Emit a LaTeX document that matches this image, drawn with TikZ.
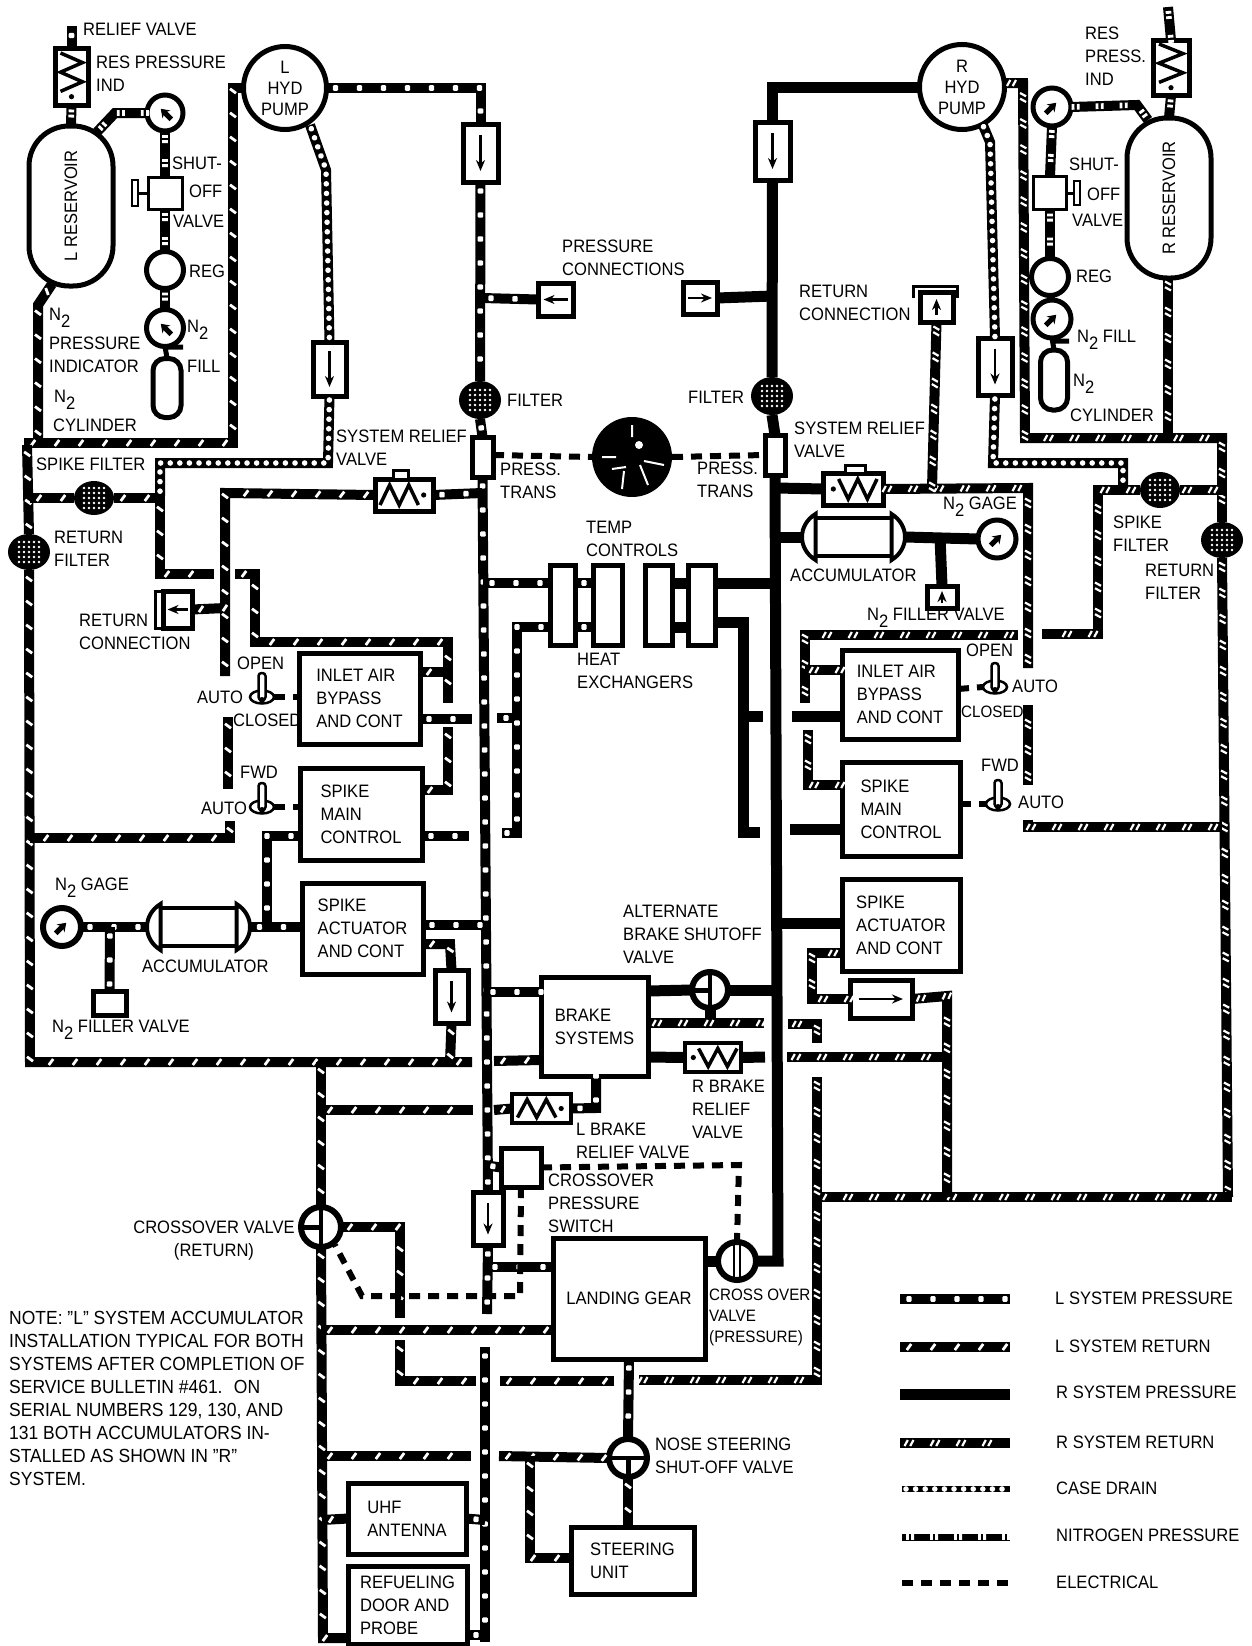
\documentclass[tikz,border=0pt]{standalone}
\usepackage{fontspec}
\setmainfont[FakeStretch=0.92]{Liberation Sans}
\usetikzlibrary{shapes.geometric,arrows.meta,decorations.markings}
\newcommand{\Nii}{N\raisebox{-7pt}{2}}
\newcommand{\chkarrow}[3]{\begin{scope}[shift={(#1.center)},rotate=#2]\draw[line width=2.5pt,-{Stealth[length=11pt,width=9pt]}] (-#3,0)--(#3,0);\end{scope}}
\newcommand{\gptr}[2]{\begin{scope}[shift={(#1.center)},rotate=#2]\draw[line width=5pt,-{Stealth[length=8pt,width=11pt]}] (-9,0)--(6,0);\end{scope}}
\newcommand{\filtd}[1]{\begin{scope}[shift={(#1.center)}]\foreach \i in {-2,...,2}\foreach \j in {-2,...,2}{\fill[white] (\i*5,\j*5) circle (1.4pt);}\end{scope}}
\newcommand{\springz}[4]{\begin{scope}[shift={(#1.center)},rotate=#2]\draw[line width=3.5pt] ({-#3},{#4})--({-.6*#3},{-#4})--({-.2*#3},{#4})--({.2*#3},{-#4})--({.6*#3},{#4});\fill ({.82*#3},0) circle (2.6pt);\end{scope}}
\newcommand{\tvalve}[3]{\begin{scope}[shift={(#1.center)},rotate=#2]\draw[line width=4pt] (0,{-#3})--(0,{#3});\draw[line width=5pt] ({-#3},0)--(0,0);\end{scope}}
\newcommand{\toggl}[1]{\begin{scope}[shift={(#1.center)}]\draw[line width=2.5pt,fill=white,rounded corners=3pt] (-3.5,-24) rectangle (3.5,3);\fill (0,3) circle (3pt);\end{scope}}
\newcommand{\accum}[1]{\begin{scope}[shift={(#1.center)}]\draw[line width=4pt] (-38,-19)--(38,-19) (-38,19)--(38,19);\draw[line width=4pt,fill=white] (-38,-23) .. controls (-56,-12) and (-56,12) .. (-38,23) -- cycle;\draw[line width=4pt,fill=white] (38,-23) .. controls (56,-12) and (56,12) .. (38,23) -- cycle;\end{scope}}
\tikzset{
 lab/.style={anchor=west,align=left,inner sep=0pt,font=\fontsize{18}{23}\selectfont},
 labc/.style={lab,anchor=center,align=center},
 lpline/.style={line width=10pt,postaction={decorate,decoration={markings,mark=between positions 9pt and 1 step 24pt with {\fill[white,rounded corners=1pt] (-2.6,-2.8) rectangle (2.6,2.8);}}}},
 lrline/.style={line width=10pt,postaction={decorate,decoration={markings,mark=between positions 9pt and 1 step 24pt with {\draw[white,line width=2.8pt] (-2.2,3)--(2.2,-3);}}}},
 rpline/.style={line width=11pt},
 rrline/.style={line width=10pt,postaction={decorate,decoration={markings,mark=between positions 9pt and 1 step 26pt with {\draw[white,line width=2.2pt] (-4.5,3)--(-1.2,-3) (1.2,3)--(4.5,-3);}}}},
 cdline/.style={line width=10pt,postaction={decorate,decoration={markings,mark=between positions 4pt and 1 step 9.6pt with {\fill[white] (0,0) circle (2.8pt);}}}},
 nline/.style={line width=10pt,postaction={decorate,decoration={markings,mark=between positions 8pt and 1 step 24pt with {\fill[white] (-4,-2.8) rectangle (-1.2,2.8) (1.2,-2.8) rectangle (4,2.8);}}}},
 elline/.style={line width=6pt,dash pattern=on 11pt off 8pt},
 tbox/.style 2 args={draw,fill=white,line width=5pt,inner sep=0pt,outer sep=0pt,minimum width=#1,minimum height=#2,align=left,font=\fontsize{18}{23}\selectfont},
 disc/.style={circle,draw,fill=white,line width=5pt,inner sep=0pt,outer sep=0pt,minimum size=#1,align=center,font=\fontsize{18}{21}\selectfont},
 filt/.style 2 args={ellipse,fill=black,inner sep=0pt,outer sep=0pt,minimum width=#1,minimum height=#2},
 res/.style={rectangle,rotate=90,draw,fill=white,line width=5pt,rounded corners=40pt,minimum width=160pt,minimum height=84pt,inner sep=0pt,outer sep=0pt,font=\fontsize{18}{21}\selectfont},
 cyl/.style 2 args={draw,fill=white,line width=5pt,rounded corners=12pt,minimum width=#1,minimum height=#2,inner sep=0pt,outer sep=0pt},
 tgl/.style={ellipse,draw,fill=white,line width=2.5pt,minimum width=24pt,minimum height=13pt,inner sep=0pt,outer sep=0pt},
}
\begin{document}
\begin{tikzpicture}[x=1pt,y=-1pt,line join=miter]
\useasboundingbox[fill=white] (0,0) rectangle (1252,1646);
% ---- boxes
\node[tbox={121pt}{91pt}] (lin) at (359.5,698.5) {INLET AIR\\BYPASS\\AND CONT};
\node[tbox={122pt}{92pt}] (lmain) at (361,814) {SPIKE\\MAIN\\CONTROL};
\node[tbox={121pt}{91pt}] (lact) at (362.5,928.5) {SPIKE\\ACTUATOR\\AND CONT};
\node[tbox={116pt}{89pt}] (rin) at (900,694.5) {INLET AIR\\BYPASS\\AND CONT};
\node[tbox={118pt}{94pt}] (rmain) at (901,809) {SPIKE\\MAIN\\CONTROL};
\node[tbox={118pt}{92pt}] (ract) at (901,925) {SPIKE\\ACTUATOR\\AND CONT};
\node[tbox={107pt}{99pt}] (brake) at (594.5,1026.5) {BRAKE\\SYSTEMS};
\node[tbox={152pt}{121pt},align=center] (landing) at (629,1298.5) {LANDING GEAR};
\node[tbox={123pt}{67pt}] (steer) at (632.5,1560.5) {STEERING\\UNIT};
\node[tbox={118pt}{71pt}] (uhf) at (407,1518.5) {UHF\\ANTENNA};
\node[tbox={119pt}{78pt}] (refuel) at (407.5,1605) {REFUELING\\DOOR AND\\PROBE};
% ---- pumps, reservoirs
\node[disc=83pt] (lpump) at (285,88) {L\\HYD\\PUMP};
\node[disc=85pt] (rpump) at (962,87) {R\\HYD\\PUMP};
\node[res] (lres) at (71,206) {L RESERVOIR};
\node[res] (rres) at (1169,198) {R RESERVOIR};
\node[tbox={33pt}{57pt}] (lrv) at (71.5,77) {};
\node[tbox={36pt}{55pt}] (rrv) at (1171,68) {};
% ---- left nitrogen train
\node[disc=36pt] (lg1) at (165,113) {};
\node[tbox={34pt}{32pt},line width=3pt] (lsh) at (165,193) {};
\node[tbox={6pt}{26pt},line width=2.5pt] (lshb) at (135,193) {};
\node[disc=37pt] (lreg) at (165,270) {};
\node[disc=37pt] (lg2) at (165,328) {};
\node[cyl={28pt}{59pt}] (lcyl) at (167,388) {};
% ---- right nitrogen train
\node[disc=38pt] (rg1) at (1052,107) {};
\node[tbox={33pt}{33pt},line width=2.5pt] (rsh) at (1050,193) {};
\node[tbox={6pt}{24pt},line width=2.5pt] (rshb) at (1077,193) {};
\node[disc=37pt] (rreg) at (1050,277) {};
\node[disc=38pt] (rg2) at (1052,319) {};
\node[cyl={27pt}{60pt}] (rcyl) at (1054,380) {};
% ---- check valves and connections
\node[tbox={35pt}{58pt}] (lchk) at (480.5,153) {};
\node[tbox={33pt}{54pt}] (lchkb) at (329.5,369) {};
\node[tbox={35pt}{58pt}] (rchk) at (772.5,151) {};
\node[tbox={34pt}{57pt}] (rchkb) at (995,366.5) {};
\node[tbox={33pt}{53pt}] (lchkc) at (451.5,996.5) {};
\node[tbox={62pt}{38pt}] (rchkc) at (881,999) {};
\node[tbox={30pt}{53pt}] (lchkd) at (488,1218.5) {};
\node[tbox={35pt}{33pt}] (lpc) at (555.5,299.5) {};
\node[tbox={34pt}{32pt}] (rpc) at (700,298) {};
\node[tbox={29pt}{37pt}] (lrc) at (177.5,609.5) {};
\node[tbox={33pt}{30pt}] (rrc) at (936.5,307) {};
\node[tbox={21pt}{40pt}] (lpt) at (482.5,457) {};
\node[tbox={20pt}{40pt}] (rpt) at (775,455) {};
\node[tbox={33pt}{24pt}] (lfv) at (109.5,1003) {};
\node[tbox={30pt}{22pt}] (rfv) at (942,597) {};
\node[tbox={40pt}{39pt}] (cps) at (521,1167.5) {};
% ---- filters
\node[filt={42pt}{38pt}] (lfm) at (480,400) {};
\node[filt={42pt}{38pt}] (rfm) at (772,396) {};
\node[filt={40pt}{34pt}] (lsf) at (94,498) {};
\node[filt={42pt}{36pt}] (lrf) at (29,552) {};
\node[filt={40pt}{36pt}] (rsf) at (1160,490) {};
\node[filt={42pt}{36pt}] (rrf) at (1222,540) {};
% ---- relief valves
\node[tbox={58pt}{32pt}] (lsr) at (404,495) {};
\node[tbox={15pt}{9pt},line width=3pt] (lsrt) at (401,475) {};
\node[tbox={60pt}{32pt}] (rsr) at (853,489) {};
\node[tbox={20pt}{8pt},line width=3pt] (rsrt) at (855,469) {};
\node[tbox={56pt}{29pt},line width=4pt] (rbv) at (713,1057.5) {};
\node[tbox={59pt}{29pt},line width=4pt] (lbv) at (541.5,1108.5) {};
% ---- gauges, valves
\node[disc=38pt,line width=6pt] (lg3) at (62,927) {};
\node[disc=38pt,line width=5pt] (rg3) at (997,539) {};
\node[disc=36pt,line width=6pt] (abv) at (710,990) {};
\node[disc=38pt,line width=6pt] (xop) at (737,1261) {};
\node[disc=40pt,line width=6pt] (xor) at (321,1227) {};
\node[disc=38pt,line width=6pt] (nose) at (628,1458) {};
\node[circle,fill=black,minimum size=80pt,inner sep=0pt,outer sep=0pt] (clock) at (632,457) {};
\node[tbox={25pt}{80pt}] (hxa) at (562.5,605) {};
\node[tbox={29pt}{80pt}] (hxb) at (607.5,605) {};
\node[tbox={27pt}{80pt}] (hxc) at (658.5,605) {};
\node[tbox={27pt}{80pt}] (hxd) at (701.5,605) {};
\node[minimum width=104pt,minimum height=44pt,inner sep=0pt,outer sep=0pt] (lacc) at (198.5,927) {};
\node[minimum width=104pt,minimum height=44pt,inner sep=0pt,outer sep=0pt] (racc) at (853.5,537) {};
\node[tgl] (lts) at (262,697) {};
\node[tgl] (lsw) at (262,807) {};
\node[tgl] (rts) at (995,687) {};
\node[tgl] (rsw) at (998,804) {};
% ---- symbols in the nodes
\chkarrow{lchk}{-90}{18}\chkarrow{lchkb}{-90}{18}\chkarrow{rchk}{-90}{18}\chkarrow{rchkb}{-90}{18}
\chkarrow{lchkc}{-90}{16}\chkarrow{rchkc}{0}{22}\chkarrow{lchkd}{-90}{16}
\chkarrow{lpc}{180}{12}\chkarrow{rpc}{0}{12}\chkarrow{lrc}{180}{10}\chkarrow{rrc}{90}{8}\chkarrow{rfv}{90}{6}
\gptr{lg1}{135}\gptr{lg2}{135}\gptr{rg1}{45}\gptr{rg2}{45}\gptr{lg3}{45}\gptr{rg3}{45}
\filtd{lfm}\filtd{rfm}\filtd{lsf}\filtd{lrf}\filtd{rsf}\filtd{rrf}
\springz{lrv}{-90}{24}{11}\springz{rrv}{-90}{24}{12}\springz{lsr}{0}{24}{10}\springz{rsr}{180}{24}{10}\springz{rbv}{180}{24}{9}\springz{lbv}{0}{24}{9}
\tvalve{abv}{0}{16}\tvalve{xor}{0}{18}\tvalve{nose}{90}{17}
\draw[line width=2pt] ([xshift=-3pt,yshift=19pt]xop.center)--([xshift=-3pt,yshift=-19pt]xop.center) ([xshift=3pt,yshift=19pt]xop.center)--([xshift=3pt,yshift=-19pt]xop.center);
\accum{lacc}\accum{racc}
\toggl{lts}\toggl{lsw}\toggl{rts}\toggl{rsw}
% clock marks
\draw[white,line width=2pt] ([yshift=32pt]clock.center)--([yshift=20pt]clock.center) ([xshift=-30pt]clock.center)--([xshift=-16pt]clock.center) ([xshift=12pt,yshift=-4pt]clock.center)--([xshift=32pt,yshift=-8pt]clock.center) ([xshift=8pt,yshift=-8pt]clock.center)--([xshift=16pt,yshift=-28pt]clock.center) ([xshift=-8pt,yshift=-14pt]clock.center)--([xshift=-10pt,yshift=-32pt]clock.center) ([xshift=-20pt,yshift=-12pt]clock.center)--([xshift=-6pt,yshift=-10pt]clock.center);
\fill[white] ([xshift=7pt,yshift=12pt]clock.center) circle (4pt);
% ---- brackets and handles
\draw[line width=3pt] (lrc.north west)--(155,591)--(155,628)--(lrc.south west);
\draw[line width=3pt] (913,298)--(913,286)--(957,286)--(957,298);
\draw[line width=3pt] (lsh.west)--(lshb.east);
\draw[line width=3pt] (rsh.east)--(rshb.west);
% ---- L pressure
\draw[lpline] (lpump.east)--(480.5,88)--(lchk.north);
\draw[lpline] (lchk.south)--(lfm.north);
\draw[lpline] (lfm.south)--(lpt.north);
\draw[lpline] (lpt.south)--(lchkd.north);
\draw[lpline] (lchkd.south)--(487,1314);
\draw[lpline] (485,1347)--(485,1642);
\draw[lpline] (482,298)--(lpc.west);
\draw[lpline] (lsr.east)--(482,493);
\draw[lpline] ([yshift=-20.5pt]lin.east)--(472,719);
\draw[lpline] (497,718)--(522,718);
\draw[lpline] ([yshift=-22pt]lmain.east)--(469,836);
\draw[lpline] ([yshift=3.5pt]lact.east)--(483,925);
\draw[lpline] (483,583)--([yshift=22pt]hxa.west);
\draw[lpline] ([yshift=22pt]hxa.east)--([yshift=22pt]hxb.west);
\draw[lpline] ([yshift=-22pt]hxa.east)--([yshift=-22pt]hxb.west);
\draw[lpline] ([yshift=-22pt]hxa.west)--(517,627)--(517,833)--(502,833);
\draw[lpline] (484,992)--([yshift=34.5pt]brake.west);
\draw[lpline] (lbv.east)--(596,1108)--(brake.south-|596,0);
\draw[lpline] (484,1165)--(cps.west);
\draw[lpline] (486,1267)--([yshift=31.5pt]landing.west);
\draw[lpline] (landing.south)--(nose.north);
\draw[lpline] (485,1520)--(uhf.east);
\draw[lpline] (485,1635)--([yshift=-30pt]refuel.east);
\draw[lpline] ([yshift=22pt]lrv.north)--(lrv.north);
\draw[lpline] (lg3.east)--(lacc.west);
\draw[lpline] (lacc.east)--([yshift=1.5pt]lact.west);
\draw[lpline] (110,927)--(lfv.north);
\draw[lpline] ([yshift=-22pt]lmain.west)--(267,836)--(267,927);
% ---- L return
\draw[lrline] (52,284)--(38,305)--(38,443);
\draw[lrline] (24,443)--(233,443)--(233,88)--(lpump.west);
\draw[lrline] (27,445)--(lrf.north);
\draw[lrline] (lrf.south)--(30,1062)--(472,1062);
\draw[lrline] (494,1061)--([yshift=-33.5pt]brake.west);
\draw[lrline] (30,498)--(lsf.west);
\draw[lrline] (lsf.east)--(160,498)--(160,574)--(214,574);
\draw[lrline] (235,574)--(255,574)--(255,642)--(448,642)--(448,703);
\draw[lrline] ([yshift=26.5pt]lin.east)--(448,672);
\draw[lrline] (448,727)--(448,790)--([yshift=24pt]lmain.east);
\draw[lrline] (lsr.west)--(225,493)--(225,676);
\draw[lrline] (lrc.east)--(225,608);
\draw[lrline] (228,717)--(228,789);
\draw[lrline] (230,821)--(230,838)--(30,838);
\draw[lrline] ([yshift=-15.5pt]lact.east)--(450,944)--(lchkc.north);
\draw[lrline] (lchkc.south)--(450,1062);
\draw[lrline] (321,1062)--(xor.north);
\draw[lrline] (xor.south)--(323,1638)--([yshift=-33pt]refuel.west);
\draw[lrline] (321,1110)--(473,1110);
\draw[lrline] (494,1110)--(lbv.west);
\draw[lrline] (321,1330)--([yshift=-31.5pt]landing.west);
\draw[lrline] (321,1456)--(471,1456);
\draw[lrline] (499,1456)--(nose.west);
\draw[lrline] (530,1456)--(530,1558)--([yshift=2.5pt]steer.west);
\draw[lrline] (nose.south)--(628,1527);
\draw[lrline] (322,1520)--(uhf.west);
\draw[lrline] (xor.east)--(400,1227)--(400,1318);
\draw[lrline] (400,1340)--(400,1381)--(476,1381);
\draw[lrline] (500,1381)--(614,1381);
% ---- R pressure
\draw[rpline] (rpump.west)--(772.5,87)--(rchk.north);
\draw[rpline] (rchk.south)--(rfm.north);
\draw[rpline] (rfm.south)--(rpt.north);
\draw[rpline] (rpt.south)--(778,1261)--(xop.east);
\draw[rpline] (xop.west)--([yshift=37.5pt]landing.east);
\draw[rpline] (rpc.east)--(773,296);
\draw[rpline] (777,488)--(rsr.west);
\draw[rpline] (777,537)--(racc.west);
\draw[rpline] (racc.east)--(rg3.west);
\draw[rpline] (940,537)--(rfv.north);
\draw[rpline] (715,583)--(776,583);
\draw[rpline] ([yshift=22pt]hxc.east)--([yshift=22pt]hxd.west);
\draw[rpline] ([yshift=-22pt]hxc.east)--([yshift=-22pt]hxd.west);
\draw[rpline] ([yshift=-17pt]hxd.east)--(743,622)--(743,832)--(760,832);
\draw[rpline] (743,716)--(763,716);
\draw[rpline] (792,716)--([yshift=-21.5pt]rin.west);
\draw[rpline] (790,829)--([yshift=-20pt]rmain.west);
\draw[rpline] (777,923)--([yshift=2pt]ract.west);
\draw[rpline] (abv.east)--(778,990);
\draw[rpline] ([yshift=-30.5pt]brake.east)--(rbv.west);
\draw[rpline] (rbv.east)--(765,1057);
\draw[rpline] (abv.south)--(710,1023);
\draw[rpline] ([yshift=35.5pt]brake.east)--(abv.west);
% ---- R return
\draw[rrline] ([xshift=-2pt,yshift=4pt]rpump.east)--(1023,83)--(1025,438)--(1227,438);
\draw[rrline] (1168,277)--(1168,438);
\draw[rrline] (1222,438)--(rrf.north);
\draw[rrline] (rrf.south)--(1228,1197);
\draw[rrline] (813,1197)--(1232,1197);
\draw[rrline] (1222,827)--(1028,827)--(1028,820);
\draw[rrline] (1028,785)--(1028,705);
\draw[rrline] (1028,668)--(1028,488)--(rsr.east);
\draw[rrline] (rrc.south)--(932,488);
\draw[rrline] (1222,490)--(rsf.east);
\draw[rrline] (rsf.west)--(1098,490)--(1098,634)--(1042,634);
\draw[rrline] (1018,635)--(805,635)--(805,703);
\draw[rrline] (805,670)--([yshift=24.5pt]rin.west);
\draw[rrline] (808,730)--(808,785)--([yshift=24pt]rmain.west);
\draw[rrline] ([yshift=-28pt]ract.west)--(812,953)--(812,999)--(rchkc.west);
\draw[rrline] (rchkc.east)--(947,996)--(947,1197);
\draw[rrline] (787,1057)--(947,1057);
\draw[rrline] ([yshift=3.5pt]brake.east)--(764,1023);
\draw[rrline] (788,1024)--(817,1024)--(817,1043);
\draw[rrline] (817,1077)--(817,1380)--(639,1380);
% ---- case drain
\draw[cdline] (310,125)--(326,170)--(lchkb.north);
\draw[cdline] (lchkb.south)--(328,463)--(160,463)--(160,496);
\draw[cdline] (982,123)--(990,142)--(rchkb.north);
\draw[cdline] (rchkb.south)--(993,463)--(1123,463)--(1123,486);
% ---- nitrogen
\draw[nline] (lrv.south)--(lres.east);
\draw[nline] (97,132)--(115,113)--(lg1.west);
\draw[nline] (lg1.south)--(lsh.north);
\draw[nline] (lsh.south)--(lreg.north);
\draw[nline] (lreg.south)--(lg2.north);
\draw[line width=5pt] (lg2.south)--(167,358) (167,347)--(183,347);
\draw[nline] (1168,7)--(rrv.north);
\draw[nline] (rrv.south)--(rres.east);
\draw[nline] (1148,120)--(1137,105)--(rg1.east);
\draw[nline] (rg1.south)--(rsh.north);
\draw[nline] (rsh.south)--(rreg.north);
\draw[line width=7pt] (rreg.south)--(rg2.north);
\draw[line width=5pt] (rg2.south)--(1054,350) (1054,341)--(1069,341);
% ---- electrical
\draw[elline] (lpt.east|-0,455)--(clock.west);
\draw[elline] (clock.east)--(rpt.west);
\draw[elline] (cps.east)--(739,1165)--(xop.north);
\draw[elline] (cps.south)--(520,1296)--(362,1296)--(335,1245);
\draw[elline] (lts.east)--([yshift=1.5pt]lin.west);
\draw[elline] (lsw.east)--([yshift=7pt]lmain.west);
\draw[elline] ([yshift=5.5pt]rin.east)--(rts.west);
\draw[elline] ([yshift=5pt]rmain.east)--(rsw.west);
% ---- labels
\node[lab] (t01) at (83,29) {RELIEF VALVE};
\node[lab] (t02) at (96,74) {RES PRESSURE\\IND};
\node[lab] (t03) at (172,163) {SHUT-};
\node[lab] (t04) at (189,191) {OFF};
\node[lab] (t05) at (173,221) {VALVE};
\node[lab] (t06) at (189,271) {REG};
\node[lab] (t07) at (187,330) {\Nii};
\node[lab] (t08) at (187,366) {FILL};
\node[lab] (t09) at (49,318) {\Nii};
\node[lab] (t10) at (49,355) {PRESSURE\\INDICATOR};
\node[lab] (t11) at (54,400) {\Nii};
\node[lab] (t12) at (53,425) {CYLINDER};
\node[lab] (t13) at (36,464) {SPIKE FILTER};
\node[lab] (t14) at (54,549) {RETURN\\FILTER};
\node[lab] (t15) at (79,632) {RETURN\\CONNECTION};
\node[lab] (t16) at (237,663) {OPEN};
\node[lab] (t17) at (197,697) {AUTO};
\node[lab] (t18) at (233,720) {CLOSED};
\node[lab] (t19) at (240,772) {FWD};
\node[lab] (t20) at (201,808) {AUTO};
\node[lab] (t21) at (55,888) {\Nii\ GAGE};
\node[lab] (t22) at (142,966) {ACCUMULATOR};
\node[lab] (t23) at (52,1030) {\Nii\ FILLER VALVE};
\node[lab] (t24) at (336,448) {SYSTEM RELIEF\\VALVE};
\node[lab] (t25) at (507,400) {FILTER};
\node[lab] (t26) at (688,397) {FILTER};
\node[lab] (t27) at (500,481) {PRESS.\\TRANS};
\node[lab] (t28) at (697,480) {PRESS.\\TRANS};
\node[lab] (t29) at (586,539) {TEMP\\CONTROLS};
\node[lab] (t30) at (577,671) {HEAT\\EXCHANGERS};
\node[lab] (t31) at (562,258) {PRESSURE\\CONNECTIONS};
\node[lab] (t32) at (1085,56) {RES\\PRESS.\\IND};
\node[lab] (t33) at (1069,164) {SHUT-};
\node[lab] (t34) at (1087,194) {OFF};
\node[lab] (t35) at (1072,220) {VALVE};
\node[lab] (t36) at (1076,276) {REG};
\node[lab] (t37) at (1077,340) {\Nii\ FILL};
\node[lab] (t38) at (1073,384) {\Nii};
\node[lab] (t39) at (1070,415) {CYLINDER};
\node[lab] (t40) at (799,303) {RETURN\\CONNECTION};
\node[lab] (t41) at (794,440) {SYSTEM RELIEF\\VALVE};
\node[lab] (t42) at (943,507) {\Nii\ GAGE};
\node[lab] (t43) at (790,575) {ACCUMULATOR};
\node[lab] (t44) at (867,618) {\Nii\ FILLER VALVE};
\node[lab] (t45) at (966,650) {OPEN};
\node[lab] (t46) at (1012,686) {AUTO};
\node[lab,font=\fontsize{16.5}{23}\selectfont] (t47) at (961,712) {CLOSED};
\node[lab] (t48) at (981,765) {FWD};
\node[lab] (t49) at (1018,802) {AUTO};
\node[lab] (t50) at (1113,534) {SPIKE\\FILTER};
\node[lab] (t51) at (1145,582) {RETURN\\FILTER};
\node[lab] (t52) at (623,934) {ALTERNATE\\BRAKE SHUTOFF\\VALVE};
\node[lab] (t53) at (692,1109) {R BRAKE\\RELIEF\\VALVE};
\node[lab] (t54) at (576,1141) {L BRAKE\\RELIEF VALVE};
\node[lab] (t55) at (548,1203) {CROSSOVER\\PRESSURE\\SWITCH};
\node[lab,font=\fontsize{16.5}{21}\selectfont] (t56) at (709,1317) {CROSS OVER\\VALVE\\(PRESSURE)};
\node[lab] (t57) at (655,1456) {NOSE STEERING\\SHUT-OFF VALVE};
\node[labc] (t58) at (214,1241) {CROSSOVER VALVE\\(RETURN)};
\node[lab,font=\fontsize{19}{23}\selectfont] (t59) at (9,1398) {NOTE: "L" SYSTEM ACCUMULATOR\\INSTALLATION TYPICAL FOR BOTH\\SYSTEMS AFTER COMPLETION OF\\SERVICE BULLETIN \#461.~ ON\\SERIAL NUMBERS 129, 130, AND\\131 BOTH ACCUMULATORS IN-\\STALLED AS SHOWN IN "R"\\SYSTEM.};
% ---- legend
\coordinate (a1) at (900,1299);\coordinate (b1) at (1010,1299);
\coordinate (a2) at (900,1347);\coordinate (b2) at (1010,1347);
\coordinate (a3) at (900,1394);\coordinate (b3) at (1010,1394);
\coordinate (a4) at (900,1443);\coordinate (b4) at (1010,1443);
\coordinate (a5) at (902,1489);\coordinate (b5) at (1010,1489);
\coordinate (a6) at (902,1537);\coordinate (b6) at (1010,1537);
\coordinate (a7) at (902,1583);\coordinate (b7) at (1012,1583);
\draw[lpline] (a1)--(b1);
\draw[lrline] (a2)--(b2);
\draw[rpline] (a3)--(b3);
\draw[rrline] (a4)--(b4);
\draw[cdline,line width=6pt] (a5)--(b5);
\draw[nline,line width=7pt] (a6)--(b6);
\draw[elline] (a7)--(b7);
\node[lab] (k1) at (1055,1298) {L SYSTEM PRESSURE};
\node[lab] (k2) at (1055,1346) {L SYSTEM RETURN};
\node[lab] (k3) at (1056,1392) {R SYSTEM PRESSURE};
\node[lab] (k4) at (1056,1442) {R SYSTEM RETURN};
\node[lab] (k5) at (1056,1488) {CASE DRAIN};
\node[lab] (k6) at (1056,1535) {NITROGEN PRESSURE};
\node[lab] (k7) at (1056,1582) {ELECTRICAL};
\end{tikzpicture}
\end{document}
